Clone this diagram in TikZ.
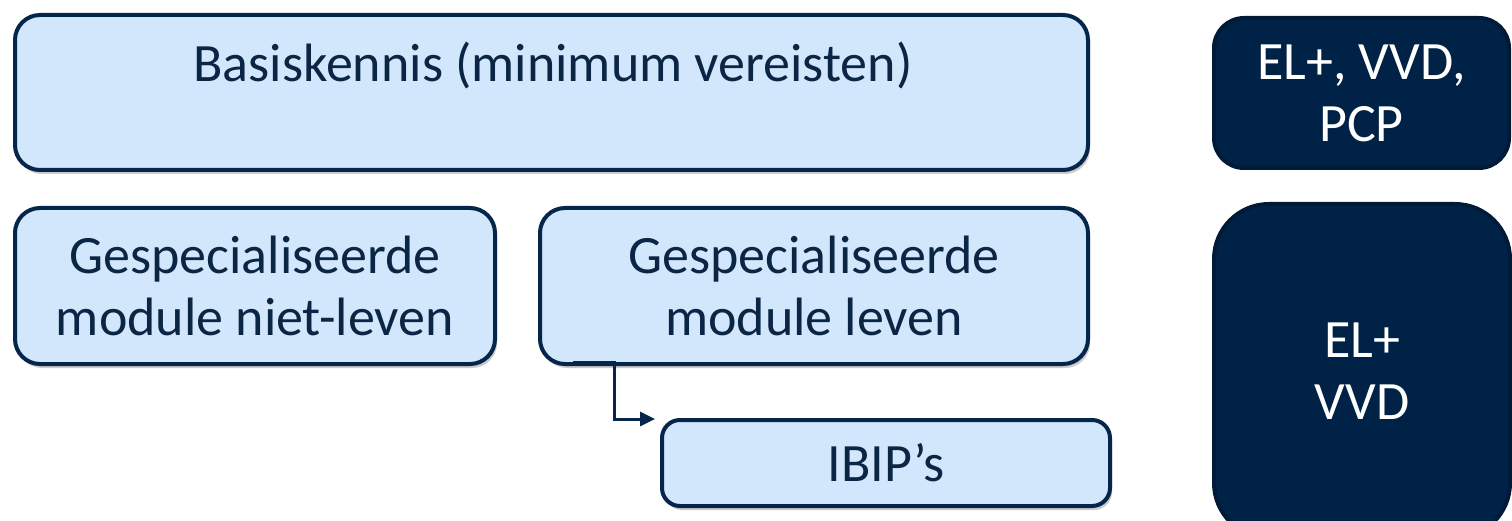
\documentclass[tikz,border=0pt]{standalone}
\usepackage{fontspec}
\setmainfont{Carlito}
\usetikzlibrary{shadows,arrows.meta}
\definecolor{lightfill}{HTML}{D3E7FC}
\definecolor{navy}{HTML}{06254A}
\definecolor{darkfill}{HTML}{002247}
\definecolor{darkedge}{HTML}{001A38}
\definecolor{navytext}{HTML}{0B2545}
\tikzset{
  boxfont/.style={font=\fontsize{54}{62}\selectfont},
  boxshadow/.style={drop shadow={shadow xshift=2pt, shadow yshift=-4pt, opacity=0.35, fill=black!60}},
  lightbox/.style={draw=navy, line width=4pt, fill=lightfill, rounded corners=25pt,
    boxshadow, inner sep=0pt, text=navytext, align=center, boxfont},
  darkbox/.style={draw=darkedge, line width=4pt, fill=darkfill, inner sep=0pt,
    text=white, align=center, boxfont},
  conn/.style={draw=navy, line width=3pt, -{Triangle[length=15pt,width=14pt]}},
}
\begin{document}
\begin{tikzpicture}[x=1pt, y=-1pt]
  \useasboundingbox (0,0) rectangle (1512,521);
  \clip (0,0) rectangle (1512,521);
  % basic knowledge box with its title near the top
  \node[lightbox, minimum width=1073pt, minimum height=155pt] (basis) at (551.5,92.5) {};
  \node[text=navytext, boxfont, inner sep=0pt] (basistxt) at (553,65) {Basiskennis (minimum vereisten)};
  % specialised modules
  \node[lightbox, minimum width=480pt, minimum height=156pt] (niet) at (255,286) {Gespecialiseerde\\module niet-leven};
  \node[lightbox, minimum width=548pt, minimum height=156pt] (leven) at (814,286) {Gespecialiseerde\\module leven};
  \node[lightbox, rounded corners=18pt, minimum width=448pt, minimum height=86pt] (ibip) at (886,463) {IBIP’s};
  % dark boxes on the right
  \node[darkbox, rounded corners=30pt, minimum width=295pt, minimum height=150pt] (d1) at (1361.5,93) {EL+, VVD,\\PCP};
  \node[darkbox, rounded corners=55pt, minimum width=296pt, minimum height=334pt] (d2) at (1362,371) {EL+\\VVD};
  % elbow connector from the life module to the IBIP box
  \coordinate (cstart) at ([xshift=35pt,yshift=4pt]leven.south west);
  \coordinate (cbend) at ([xshift=76pt,yshift=4pt]leven.south west);
  \coordinate (cend) at ([xshift=-5pt,yshift=-1pt]ibip.north west);
  \draw[conn] (cstart) -- (cbend) |- (cend);
\end{tikzpicture}
\end{document}
